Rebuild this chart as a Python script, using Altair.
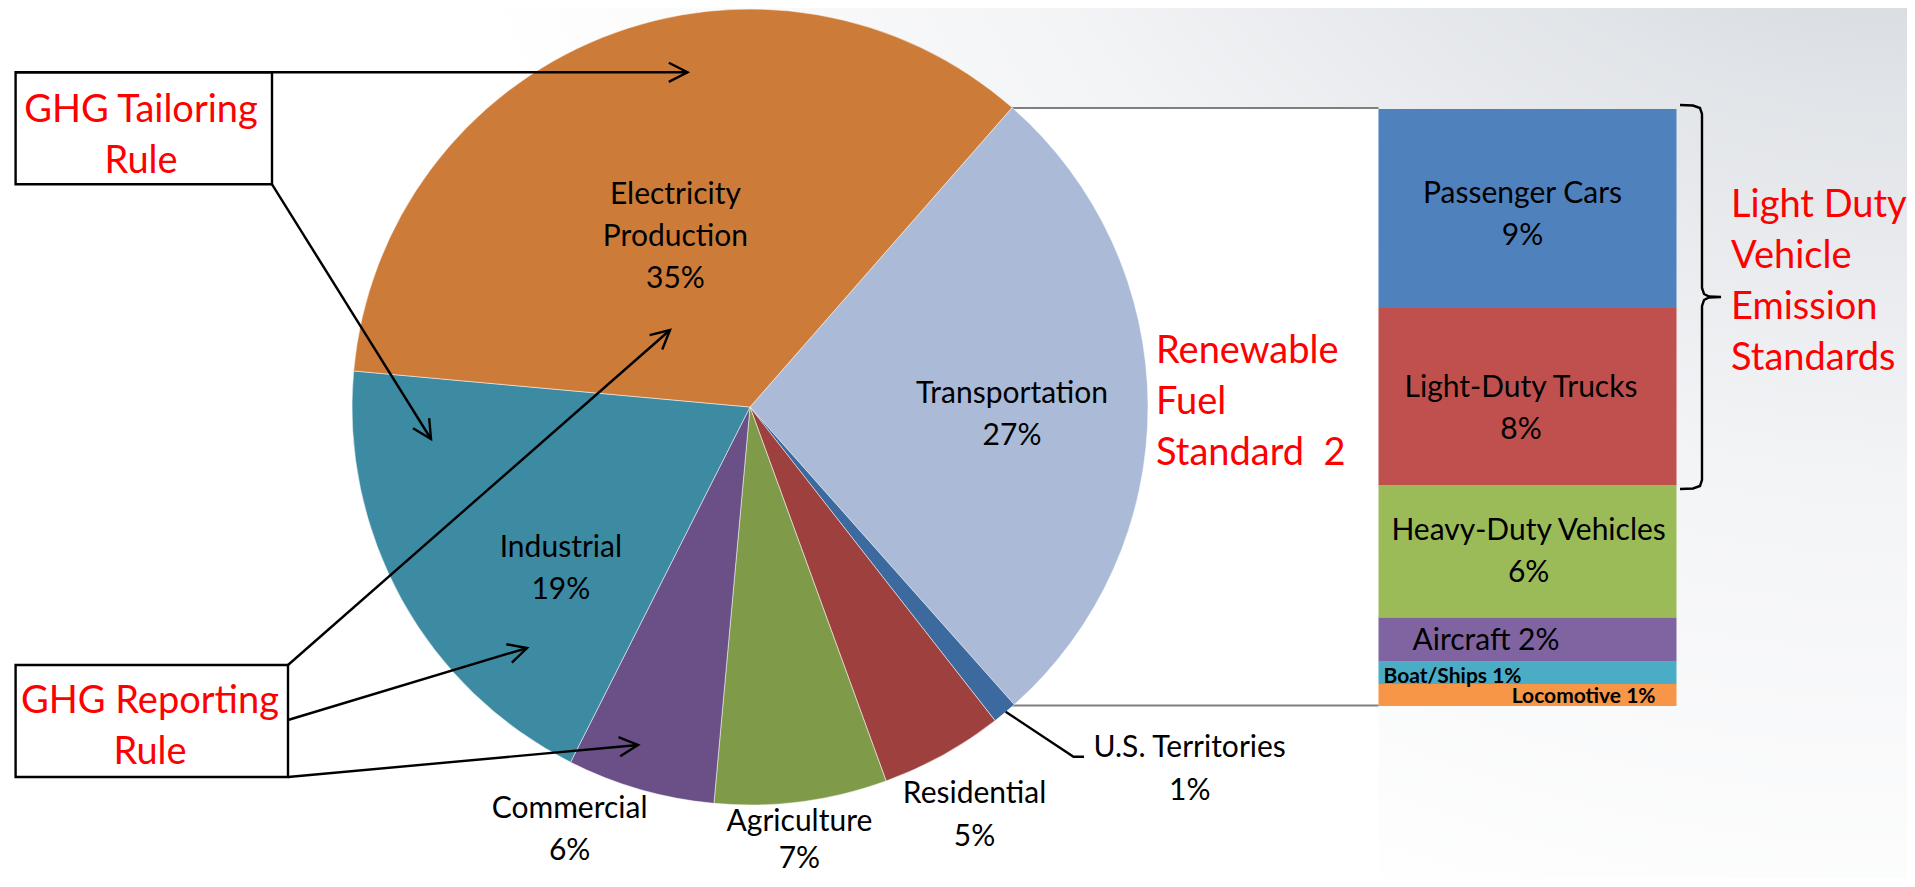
import math
import altair as alt
import pandas as pd

# ---------------- data ----------------
sectors = ["Transportation", "U.S. Territories", "Residential", "Agriculture",
           "Commercial", "Industrial", "Electricity Production"]
sector_values = [27, 1, 5, 7, 6, 19, 35]
sector_colors = ["#AABAD7", "#3C6A9E", "#9E413E", "#7F9B4A", "#6A5087", "#3C8BA3", "#CD7B39"]

transport_modes = ["Passenger Cars", "Light-Duty Trucks", "Heavy-Duty Vehicles",
                   "Aircraft", "Boat/Ships", "Locomotive"]
transport_values = [9, 8, 6, 2, 1, 1]
transport_colors = ["#4F81BD", "#C0504D", "#9BBB59", "#8064A2", "#4BACC6", "#F79646"]

tailoring_text = "GHG Tailoring\nRule"
reporting_text = "GHG Reporting\nRule"
rfs_text = "Renewable\nFuel\nStandard\u00a0 2"
ldv_text = "Light Duty\nVehicle\nEmission\nStandards"

# ---------------- layout ----------------
W, H, M = 1899, 871, 8
FONT = "Lato"
RED = "#FF0000"


def P(v):
    return v - M


CX, CY, R = P(750), P(407), 398
START = math.radians(41.2)

pie_df = pd.DataFrame({
    "sector": sectors,
    "value": sector_values,
    "order": list(range(len(sectors))),
    "col": sector_colors,
})
pie_df["label"] = [s.replace("Electricity Production", "Electricity\nProduction") + "\n" + f"{v}%"
                   for s, v in zip(sectors, sector_values)]

theta_scale = alt.Scale(domain=[0, sum(sector_values)], range=[START, START + 2 * math.pi])

pie = alt.Chart(pie_df).mark_arc(radius=R, stroke="#ffffff", strokeWidth=1, strokeOpacity=0.5).encode(
    theta=alt.Theta("value:Q", stack=True, scale=theta_scale),
    color=alt.Color("col:N", scale=None),
    order=alt.Order("order:Q"),
    x=alt.value(CX), y=alt.value(CY),
)

pie_base = alt.Chart(pie_df).transform_window(
    cum="sum(value)", sort=[alt.SortField("order")], frame=[None, 0]
).transform_calculate(mid="datum.cum - datum.value / 2")

# radius, dx, dy, line height for each sector label
pie_label_layout = {
    "Transportation": (262, 0, -3, 42),
    "U.S. Territories": (551, 87, -73, 43),
    "Residential": (455, 4, -2, 43),
    "Agriculture": (438, -7, -10, 37),
    "Commercial": (444, -58, -16, 42),
    "Industrial": (238, 19, 35, 42),
    "Electricity Production": (217, 6, -2, 42),
}
pie_labels = []
for name, (rr, ddx, ddy, lh) in pie_label_layout.items():
    pie_labels.append(
        pie_base.transform_filter(alt.datum.sector == name).mark_text(
            radius=rr, dx=ddx, dy=ddy, align="center", baseline="alphabetic",
            lineBreak="\n", lineHeight=lh, fontSize=30, font=FONT, color="#000000"
        ).encode(
            theta=alt.Theta("mid:Q", scale=theta_scale),
            text="label:N",
            x=alt.value(CX), y=alt.value(CY),
        )
    )

# ---------------- stacked bar ----------------
BAR_X0, BAR_X1 = P(1378.5), P(1676.5)
BAR_TOP, BAR_BOTTOM = P(109), P(706)
ppu = (BAR_BOTTOM - BAR_TOP) / sum(transport_values)
y_scale = alt.Scale(domain=[-BAR_TOP / ppu, (H - BAR_TOP) / ppu], reverse=True, nice=False, zero=False)

two_line = {"Passenger Cars", "Light-Duty Trucks", "Heavy-Duty Vehicles"}
bar_df = pd.DataFrame({
    "mode": transport_modes,
    "value": transport_values,
    "order": list(range(len(transport_modes))),
    "col": transport_colors,
})
bar_df["label"] = [m + ("\n" if m in two_line else " ") + f"{v}%"
                   for m, v in zip(transport_modes, transport_values)]

bar_base = alt.Chart(bar_df).transform_window(
    cum="sum(value)", sort=[alt.SortField("order")], frame=[None, 0]
).transform_calculate(p0="datum.cum - datum.value", mid="datum.cum - datum.value / 2")

bar = bar_base.mark_rect().encode(
    x=alt.value(BAR_X0), x2=alt.value(BAR_X1),
    y=alt.Y("p0:Q", scale=y_scale, axis=None), y2="cum:Q",
    color=alt.Color("col:N", scale=None),
)

# x anchor, align, dy, font size, weight
bar_label_layout = {
    "Passenger Cars": (1522.5, "center", -5.5, 30, "normal"),
    "Light-Duty Trucks": (1521, "center", 0.6, 30, "normal"),
    "Heavy-Duty Vehicles": (1528.6, "center", -11, 30, "normal"),
    "Aircraft": (1486, "center", 10.3, 30, "normal"),
    "Boat/Ships": (1383.5, "left", 10.2, 21, "bold"),
    "Locomotive": (1511.7, "left", 7.8, 21, "bold"),
}
bar_labels = []
for name, (xx, al, ddy, fs, fw) in bar_label_layout.items():
    bar_labels.append(
        bar_base.transform_filter(alt.datum.mode == name).mark_text(
            align=al, baseline="alphabetic", dy=ddy, lineBreak="\n", lineHeight=42,
            fontSize=fs, fontWeight=fw, font=FONT, color="#000000"
        ).encode(
            x=alt.value(P(xx)),
            y=alt.Y("mid:Q", scale=y_scale, axis=None),
            text="label:N",
        )
    )

# ---------------- background ----------------
one = pd.DataFrame({"k": [0]})
bg = alt.Chart(one).mark_rect(fill=alt.Gradient(
    gradient="radial",
    stops=[alt.GradientStop(color="#b3bac3", offset=0),
           alt.GradientStop(color="#c9cfd5", offset=0.18),
           alt.GradientStop(color="#e1e4e8", offset=0.4),
           alt.GradientStop(color="#f3f4f6", offset=0.65),
           alt.GradientStop(color="#ffffff", offset=1)],
    x1=1, y1=0, x2=1, y2=0, r1=0, r2=0.8)).encode(
    x=alt.value(0), x2=alt.value(W), y=alt.value(0), y2=alt.value(H))

panel = alt.Chart(one).mark_rect(fill="#ffffff").encode(
    x=alt.value(0), x2=alt.value(BAR_X0), y=alt.value(P(108)), y2=alt.value(H))

# ---------------- annotation geometry ----------------
connectors = pd.DataFrame({
    "x": [P(1012), P(1011)], "y": [P(108), P(705.5)],
    "x2": [BAR_X0, BAR_X0], "y2": [P(108), P(705.5)],
})
conn = alt.Chart(connectors).mark_rule(color="#7f7f7f", strokeWidth=2.2).encode(
    x=alt.X("x:Q", scale=None, axis=None), y=alt.Y("y:Q", scale=None, axis=None),
    x2="x2:Q", y2="y2:Q")

rows = []
gid = 0


def add_poly(points):
    global gid
    for i, (x, y) in enumerate(points):
        rows.append({"g": gid, "i": i, "x": P(x), "y": P(y)})
    gid += 1


arrows = [
    ((15.6, 72.3), (687.5, 72.3)),
    ((272, 184.3), (431, 439)),
    ((288, 665), (670, 330)),
    ((288, 720), (527, 648)),
    ((288, 777), (638, 745)),
]
HL, HA = 21, math.radians(27)
for (x0, y0), (x1, y1) in arrows:
    add_poly([(x0, y0), (x1, y1)])
    ang = math.atan2(y1 - y0, x1 - x0)
    a1, a2 = ang + math.pi - HA, ang + math.pi + HA
    add_poly([(x1 + HL * math.cos(a1), y1 + HL * math.sin(a1)), (x1, y1),
              (x1 + HL * math.cos(a2), y1 + HL * math.sin(a2))])

# brace
add_poly([(1680, 105), (1693, 105.5), (1700, 108), (1702, 114), (1702, 288), (1704, 294),
          (1709, 296.5), (1721, 297), (1709, 297.5), (1704, 300), (1702, 306), (1702, 480),
          (1700, 486), (1693, 488.5), (1680, 489)])
# leader line for U.S. Territories
add_poly([(1005.6, 711.7), (1073.5, 756.7), (1084, 756.7)])

lines_df = pd.DataFrame(rows)
lines = alt.Chart(lines_df).mark_line(color="#000000", strokeWidth=2.4).encode(
    x=alt.X("x:Q", scale=None, axis=None), y=alt.Y("y:Q", scale=None, axis=None),
    detail="g:N", order="i:Q")

boxes_df = pd.DataFrame({
    "x": [P(15.6), P(15.6)], "x2": [P(272), P(288)],
    "y": [P(72.3), P(665)], "y2": [P(184.3), P(777)],
})
boxes = alt.Chart(boxes_df).mark_rect(fill="#ffffff", stroke="#000000", strokeWidth=2.4).encode(
    x=alt.X("x:Q", scale=None, axis=None), x2="x2:Q",
    y=alt.Y("y:Q", scale=None, axis=None), y2="y2:Q")

center_notes = pd.DataFrame({"t": [tailoring_text, reporting_text],
                             "x": [P(141), P(150)], "y": [P(121.7), P(713)]})
left_notes = pd.DataFrame({"t": [rfs_text, ldv_text],
                           "x": [P(1156), P(1731)], "y": [P(363), P(217)]})


def notes(df, align):
    return alt.Chart(df).mark_text(
        align=align, baseline="alphabetic", lineBreak="\n", lineHeight=51,
        fontSize=38, font=FONT, color=RED
    ).encode(x=alt.X("x:Q", scale=None, axis=None), y=alt.Y("y:Q", scale=None, axis=None), text="t:N")


chart = alt.layer(
    bg, panel, conn, pie, *pie_labels, bar, *bar_labels, boxes, lines,
    notes(center_notes, "center"), notes(left_notes, "left"),
).properties(
    width=W, height=H, padding=0, autosize=alt.AutoSizeParams(type="none"),
).configure_view(stroke=None)

chart.save("out.html", embed_options={"renderer": "svg", "actions": False})
